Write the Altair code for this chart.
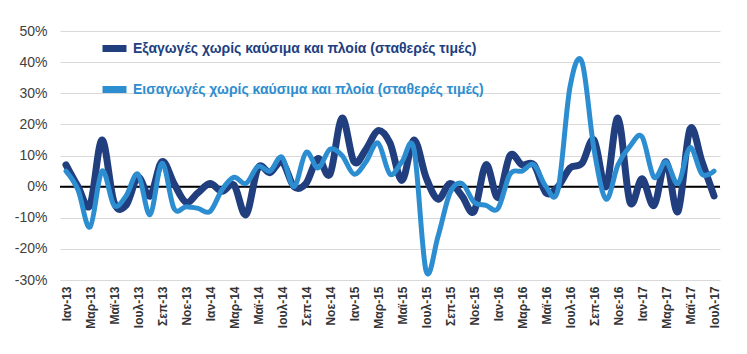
import altair as alt
import pandas as pd

categories = [
    "Ιαν-13", "Φεβ-13", "Μαρ-13", "Απρ-13", "Μαϊ-13", "Ιουν-13", "Ιουλ-13", "Αυγ-13", "Σεπ-13", "Οκτ-13", "Νοε-13", "Δεκ-13",
    "Ιαν-14", "Φεβ-14", "Μαρ-14", "Απρ-14", "Μαϊ-14", "Ιουν-14", "Ιουλ-14", "Αυγ-14", "Σεπ-14", "Οκτ-14", "Νοε-14", "Δεκ-14",
    "Ιαν-15", "Φεβ-15", "Μαρ-15", "Απρ-15", "Μαϊ-15", "Ιουν-15", "Ιουλ-15", "Αυγ-15", "Σεπ-15", "Οκτ-15", "Νοε-15", "Δεκ-15",
    "Ιαν-16", "Φεβ-16", "Μαρ-16", "Απρ-16", "Μαϊ-16", "Ιουν-16", "Ιουλ-16", "Αυγ-16", "Σεπ-16", "Οκτ-16", "Νοε-16", "Δεκ-16",
    "Ιαν-17", "Φεβ-17", "Μαρ-17", "Απρ-17", "Μαϊ-17", "Ιουν-17", "Ιουλ-17",
]

tick_labels = [
    "Ιαν-13", "Μαρ-13", "Μαϊ-13", "Ιουλ-13", "Σεπ-13", "Νοε-13",
    "Ιαν-14", "Μαρ-14", "Μαϊ-14", "Ιουλ-14", "Σεπ-14", "Νοε-14",
    "Ιαν-15", "Μαρ-15", "Μαϊ-15", "Ιουλ-15", "Σεπ-15", "Νοε-15",
    "Ιαν-16", "Μαρ-16", "Μαϊ-16", "Ιουλ-16", "Σεπ-16", "Νοε-16",
    "Ιαν-17", "Μαρ-17", "Μαϊ-17", "Ιουλ-17",
]

exports = [
    7, 0, -6, 15, -5, -6, 3, -3, 8, 1, -5, -2,
    1, -1.5, 0.5, -9, 6, 4.5, 8, 0, 1, 9, 4, 22,
    8, 12, 18, 14, 2, 15, 3, -4, 1, -3, -8, 7,
    -3.5, 10, 7, 7, -2, 0, 6, 7.5, 15, 0, 22, -5,
    2.5, -6, 8, -8, 18.5, 8, -3,
]

imports = [
    5, -1, -13, 5, -6, -3, 4, -9, 7.5, -7, -6.5, -7,
    -8, -1, 3, 1, 6.5, 5, 9.5, 0, 11, 6, 12, 10,
    4, 8, 14, 4, 8, 12, -27, -16, -2, 1, -5, -6,
    -7, 4, 5, 7, 0, -1, 32, 40, 12, -4, 7, 13,
    16, 3, 8, 1, 12.5, 4, 5,
]

series_names = [
    "Εξαγωγές χωρίς καύσιμα και πλοία (σταθερές τιμές)",
    "Εισαγωγές χωρίς καύσιμα και πλοία (σταθερές τιμές)",
]
series_colors = ["#213E7E", "#2C8ED0"]
y_ticks = [-30, -20, -10, 0, 10, 20, 30, 40, 50]
zero_line = [0]

df = pd.DataFrame({
    "month": categories * 2,
    "series": [series_names[0]] * len(exports) + [series_names[1]] * len(imports),
    "value": exports + imports,
})

FONT = "Liberation Sans"

x_enc = alt.X(
    "month:O",
    sort=categories,
    scale=alt.Scale(type="point", padding=0.5),
    axis=alt.Axis(
        values=tick_labels, title=None, labelAngle=-90, labelFont=FONT,
        labelFontSize=12, labelFontWeight="bold", labelColor="#333333",
        labelPadding=6, domain=False, ticks=False, grid=False,
        labelOverlap=False,
    ),
)
y_enc = alt.Y(
    "value:Q",
    scale=alt.Scale(domain=[-30, 50], nice=False),
    axis=alt.Axis(
        values=y_ticks, title=None, labelExpr="datum.value + '%'",
        labelFont=FONT, labelFontSize=14, labelColor="#404040",
        labelPadding=13, domain=False, ticks=False, labelOverlap=False,
        grid=True, gridColor="#D9D9D9", gridWidth=1,
    ),
)
color_enc = alt.Color(
    "series:N",
    scale=alt.Scale(domain=series_names, range=series_colors),
    legend=alt.Legend(
        title=None, orient="none", legendX=39, legendY=2, padding=0,
        symbolType="stroke", symbolSize=576, symbolStrokeWidth=7,
        labelFont=FONT, labelFontSize=14, labelFontWeight="bold",
        labelOffset=3, rowPadding=11, labelLimit=600,
        labelColor={"expr": "datum.label == '" + series_names[0] + "' ? '" + series_colors[0] + "' : '" + series_colors[1] + "'"},
    ),
)

base = alt.Chart(df)

dark = base.transform_filter(alt.datum.series == series_names[0]).mark_line(
    interpolate="cardinal", strokeWidth=7, strokeCap="round", strokeJoin="round"
).encode(x=x_enc, y=y_enc, color=color_enc)

light = base.transform_filter(alt.datum.series == series_names[1]).mark_line(
    interpolate="cardinal", strokeWidth=5, strokeCap="round", strokeJoin="round"
).encode(x=x_enc, y=y_enc, color=color_enc)

zero = alt.Chart(pd.DataFrame({"value": zero_line})).mark_rule(
    color="black", strokeWidth=2
).encode(y=y_enc)

chart = alt.layer(zero, dark, light).properties(
    width=660, height=249,
    autosize=alt.AutoSizeParams(type="none"),
    padding={"left": 60, "top": 31, "right": 27, "bottom": 74},
    background="white",
).configure_view(stroke=None)

chart.save("out.html", embed_options={"renderer": "svg", "actions": False})
